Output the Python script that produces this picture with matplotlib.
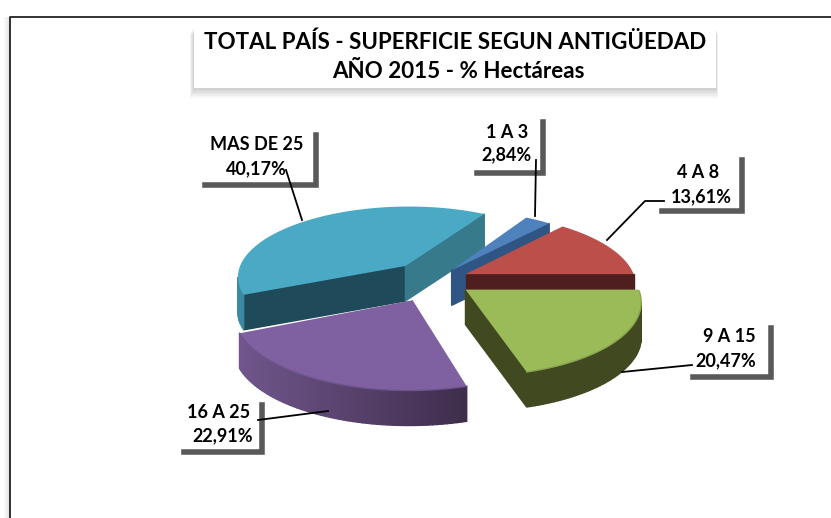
import numpy as np
import matplotlib
matplotlib.use("Agg")
import matplotlib.pyplot as plt
from matplotlib.patches import Rectangle

categories = ["9 A 15", "16 A 25", "MAS DE 25", "1 A 3", "4 A 8"]
values = [20.47, 22.91, 40.17, 2.84, 13.61]

title_lines = ["TOTAL PAÍS - SUPERFICIE SEGUN ANTIGÜEDAD", "AÑO 2015 - % Hectáreas"]

#styles of each slice, same order as categories
explode = [0.22, 0.3, 0.27, 0.17, 0.2]
top_colors = ["#9bbb59", "#7f60a0", "#4aa9c4", "#4f81bd", "#bd4f4b"]
arc_colors = [("#40491f", "#40491f"), ("#70568c", "#3f2d4c"), ("#3b8aa3", "#1f4a5a"),
              ("#2f5585", "#2f5585"), ("#4f1f1f", "#4f1f1f")]
first_edge = ["#40491f", "#3f2d4c", "#1f4a5a", "#2f5585", "#4f1f1f"]
last_edge = ["#40491f", "#3f2d4c", "#367a8c", "#2f5585", "#4f1f1f"]
draw_order = [2, 3, 4, 1, 0]

#grey L shape of each label: right, bottom, left, top
label_boxes = {"MAS DE 25": (316, 185, 205, 135), "1 A 3": (543, 173, 477, 122), "4 A 8": (742, 211, 662, 160),
               "9 A 15": (771, 377, 693, 328), "16 A 25": (262, 452, 184, 405)}
#centres of the two text lines: x1, y1, x2, y2
label_text = {"MAS DE 25": (257, 145, 256, 169), "1 A 3": (507, 132, 506, 155), "4 A 8": (698, 172, 701, 197),
              "9 A 15": (729, 337, 726, 361), "16 A 25": (219, 413, 223, 436)}
leaders = {"MAS DE 25": ([286, 302], [170, 220]), "1 A 3": ([536, 535], [160, 216]),
           "4 A 8": ([664, 645, 607], [201, 201, 240]), "9 A 15": ([692, 622], [365, 372]),
           "16 A 25": ([258, 328], [420, 411])}

#perspective of the pie
cx, cy = 435, 280
radius = 170
squash = 0.42
persp = 0.14
depth = 35


def project(u, v):
    w = 1 + persp * v
    return cx + radius * u / w, cy - radius * squash * v / w


def lerp_color(c1, c2, t):
    a = np.array(matplotlib.colors.to_rgb(c1))
    b = np.array(matplotlib.colors.to_rgb(c2))
    return tuple(a + (b - a) * t)


fig = plt.figure(figsize=(8.31, 5.18), dpi=100)
ax = fig.add_axes([0, 0, 1, 1])
ax.set_xlim(0, 831)
ax.set_ylim(518, 0)
ax.axis("off")

#frame with a soft shadow on the left
for i in range(6):
    ax.add_patch(Rectangle((9 - i, 17), 1, 501, color="#808080", alpha=0.22 - i * 0.035, lw=0))
ax.plot([9.5, 9.5, 831], [518, 16.5, 16.5], color="#222222", lw=1.3)

#title box with shadow, mostly below it
for i in range(6, 0, -1):
    ax.add_patch(Rectangle((194 - i * 0.7, 28 + i), 522 + i * 1.0, 60 + i * 0.6, color="#707070", alpha=0.06, lw=0))
ax.add_patch(Rectangle((194, 27), 522, 61, color="white", lw=0))
ax.text(455, 42, title_lines[0], family="Lato", weight="bold", size=16.1, ha="center", va="center", color="black")
ax.text(458, 71, title_lines[1], family="Lato", weight="bold", size=16.1, ha="center", va="center", color="black")

#angles go clockwise from east
fractions = np.array(values) / sum(values)
ends = -360 * np.cumsum(fractions)
starts = np.concatenate([[0], ends[:-1]])

for k in draw_order:
    a = np.radians(np.linspace(starts[k], ends[k], 60))
    mid = np.radians((starts[k] + ends[k]) / 2)
    eu = explode[k] * np.cos(mid)
    ev = explode[k] * np.sin(mid)
    us = np.concatenate([[eu], eu + np.cos(a)])
    vs = np.concatenate([[ev], ev + np.sin(a)])
    x, y = project(us, vs)
    n = len(x)
    #signed area tells which side of an edge is outside
    area = np.sum(x * np.roll(y, -1) - np.roll(x, -1) * y)
    xmin, xmax = x[1:].min(), x[1:].max()
    for i in range(n):
        j = (i + 1) % n
        dx, dy = x[j] - x[i], y[j] - y[i]
        normal_y = -dx if area > 0 else dx
        if normal_y <= 0:
            continue
        if i == 0:
            color = first_edge[k]
        elif j == 0:
            color = last_edge[k]
        else:
            t = (x[i] - xmin) / (xmax - xmin)
            color = lerp_color(arc_colors[k][0], arc_colors[k][1], t)
        ax.fill([x[i], x[j], x[j], x[i]], [y[i], y[j], y[j] + depth, y[i] + depth],
                color=color, lw=1)
    ax.fill(x, y, color=top_colors[k], lw=0)
    #darker rim on the near part of the arc
    near = vs[1:] < ev
    if near.any() and k in (0, 1):
        ax.plot(x[1:][near], y[1:][near], color=lerp_color(top_colors[k], "#000000", 0.12), lw=1)

#labels with their grey L shape and leader line
for name, value in zip(categories, values):
    right, bottom, left, top = label_boxes[name]
    ax.plot([left, right, right], [bottom, bottom, top], color="#595959", lw=4, solid_joinstyle="miter")
    ax.plot(leaders[name][0], leaders[name][1], color="black", lw=1.3)
    x1, y1, x2, y2 = label_text[name]
    ax.text(x1, y1, name, family="Lato", weight="bold", size=13, ha="center", va="center", color="black")
    ax.text(x2, y2, f"{value:.2f}%".replace(".", ","), family="Lato", weight="bold", size=13,
            ha="center", va="center", color="black")

fig.savefig("out.png", dpi=100)
